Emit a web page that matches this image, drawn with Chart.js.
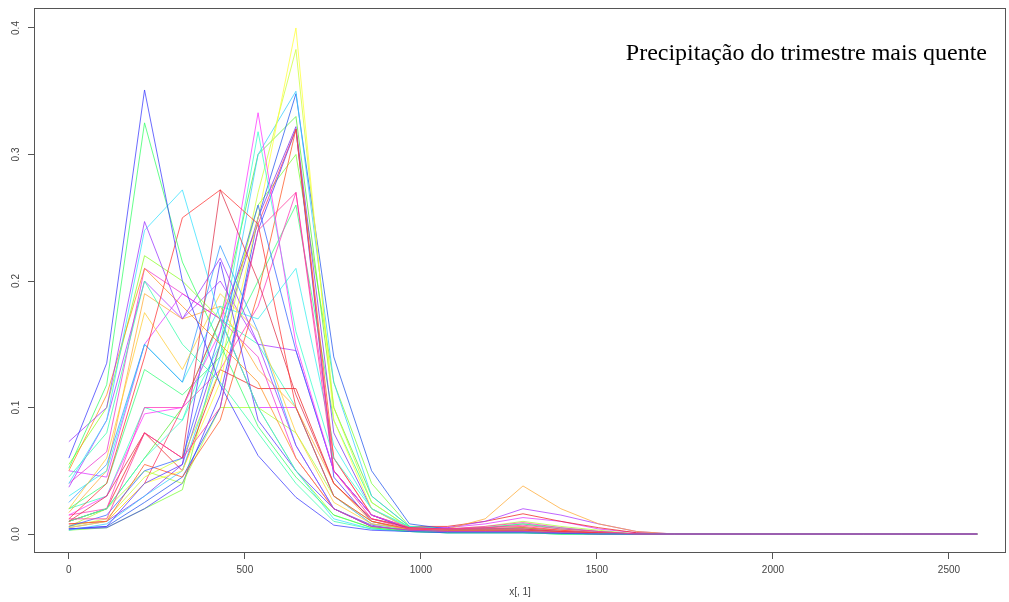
<!DOCTYPE html>
<html><head><meta charset="utf-8">
<script src="https://cdn.jsdelivr.net/npm/chart.js@4"></script>
<style>html,body{margin:0;padding:0;background:#fff}#wrap{width:1009px;height:602px}</style>
</head><body><div id="wrap"><canvas id="c" width="1009" height="602"></canvas></div>
<script>
const xValues = [0,107.5,215,322.5,430,537.5,645,752.5,860,967.5,1075,1182.5,1290,1397.5,1505,1612.5,1720,1827.5,1935,2042.5,2150,2257.5,2365,2472.5,2580];
const xTickValues = [0,500,1000,1500,2000,2500];
const xTickLabels = ['0','500','1000','1500','2000','2500'];
const yTickValues = [0,0.1,0.2,0.3,0.4];
const yTickLabels = ['0.0','0.1','0.2','0.3','0.4'];
const titleText = 'Precipitação do trimestre mais quente';
const xAxisTitle = 'x[, 1]';

const sp01 = [0.060,0.135,0.351,0.200,0.118,0.062,0.029,0.007,0.003,0.002,0.001,0.001,0.001,0.0005,0,0,0,0,0,0,0,0,0,0,0];
const sp02 = [0.052,0.118,0.325,0.215,0.150,0.085,0.045,0.015,0.005,0.002,0.001,0.001,0.001,0,0,0,0,0,0,0,0,0,0,0,0];
const sp03 = [0.073,0.100,0.247,0.170,0.218,0.150,0.070,0.020,0.006,0.003,0.002,0.002,0.002,0.001,0,0,0,0,0,0,0,0,0,0,0];
const sp04 = [0.040,0.090,0.240,0.272,0.170,0.100,0.050,0.012,0.004,0.002,0.001,0.001,0.001,0,0,0,0,0,0,0,0,0,0,0,0];
const sp05 = [0.012,0.040,0.140,0.250,0.272,0.245,0.100,0.030,0.010,0.004,0.003,0.003,0.003,0.002,0.001,0,0,0,0,0,0,0,0,0,0];
const sp06 = [0.010,0.030,0.080,0.060,0.272,0.200,0.110,0.040,0.012,0.005,0.004,0.004,0.004,0.002,0.001,0,0,0,0,0,0,0,0,0,0];
const sp07 = [0.050,0.110,0.210,0.180,0.150,0.120,0.060,0.020,0.006,0.003,0.002,0.002,0.002,0.001,0,0,0,0,0,0,0,0,0,0,0];
const sp08 = [0.020,0.060,0.175,0.130,0.190,0.160,0.080,0.025,0.008,0.004,0.003,0.003,0.003,0.001,0,0,0,0,0,0,0,0,0,0,0];
const sp09 = [0.055,0.100,0.220,0.200,0.170,0.100,0.050,0.015,0.005,0.002,0.001,0.001,0.001,0,0,0,0,0,0,0,0,0,0,0,0];
const sp10 = [0.045,0.080,0.200,0.150,0.120,0.080,0.040,0.010,0.004,0.002,0.001,0.001,0.001,0,0,0,0,0,0,0,0,0,0,0,0];
const sp11 = [0.040,0.065,0.210,0.190,0.170,0.140,0.060,0.020,0.006,0.003,0.002,0.002,0.002,0.001,0,0,0,0,0,0,0,0,0,0,0];
const sp12 = [0.025,0.055,0.150,0.120,0.228,0.160,0.070,0.020,0.006,0.003,0.002,0.002,0.002,0.001,0,0,0,0,0,0,0,0,0,0,0];
const sp13 = [0.015,0.030,0.095,0.100,0.160,0.333,0.150,0.050,0.015,0.005,0.004,0.004,0.004,0.002,0.001,0,0,0,0,0,0,0,0,0,0];
const sp14 = [0.010,0.020,0.060,0.090,0.150,0.318,0.160,0.060,0.020,0.006,0.004,0.004,0.004,0.002,0.001,0,0,0,0,0,0,0,0,0,0];
const sp15 = [0.006,0.015,0.050,0.060,0.160,0.260,0.145,0.050,0.015,0.004,0.003,0.003,0.003,0.001,0,0,0,0,0,0,0,0,0,0,0];
const sp16 = [0.004,0.006,0.040,0.055,0.215,0.090,0.050,0.020,0.007,0.002,0.002,0.002,0.002,0.001,0,0,0,0,0,0,0,0,0,0,0];
const sp17 = [0.012,0.012,0.080,0.060,0.100,0.240,0.270,0.050,0.012,0.004,0.004,0.005,0.007,0.004,0.002,0,0,0,0,0,0,0,0,0,0];
const sp18 = [0.008,0.010,0.055,0.045,0.090,0.190,0.320,0.060,0.015,0.005,0.004,0.004,0.005,0.003,0.001,0,0,0,0,0,0,0,0,0,0];
const sp19 = [0.005,0.010,0.040,0.050,0.120,0.250,0.400,0.090,0.020,0.004,0.003,0.003,0.004,0.002,0.001,0,0,0,0,0,0,0,0,0,0];
const sp20 = [0.006,0.012,0.045,0.060,0.130,0.270,0.383,0.100,0.025,0.005,0.003,0.003,0.004,0.002,0.001,0,0,0,0,0,0,0,0,0,0];
const sp21 = [0.003,0.008,0.030,0.050,0.140,0.300,0.350,0.120,0.030,0.006,0.003,0.003,0.003,0.001,0,0,0,0,0,0,0,0,0,0,0];
const sp22 = [0.004,0.006,0.025,0.045,0.100,0.250,0.348,0.140,0.050,0.008,0.004,0.003,0.003,0.001,0,0,0,0,0,0,0,0,0,0,0];
const sp23 = [0.005,0.010,0.030,0.055,0.150,0.250,0.322,0.080,0.020,0.004,0.003,0.003,0.003,0.001,0,0,0,0,0,0,0,0,0,0,0];
const sp24 = [0.008,0.010,0.040,0.100,0.170,0.245,0.320,0.050,0.015,0.004,0.004,0.005,0.006,0.003,0.001,0,0,0,0,0,0,0,0,0,0];
const sp25 = [0.010,0.020,0.060,0.100,0.170,0.300,0.330,0.100,0.030,0.006,0.004,0.004,0.005,0.002,0.001,0,0,0,0,0,0,0,0,0,0];
const sp26 = [0.015,0.020,0.100,0.100,0.130,0.180,0.270,0.060,0.015,0.004,0.004,0.006,0.009,0.005,0.002,0,0,0,0,0,0,0,0,0,0];
const sp27 = [0.030,0.050,0.150,0.120,0.180,0.170,0.210,0.070,0.020,0.005,0.004,0.004,0.005,0.002,0.001,0,0,0,0,0,0,0,0,0,0];
const sp28 = [0.020,0.040,0.130,0.110,0.140,0.200,0.260,0.090,0.025,0.005,0.004,0.005,0.008,0.004,0.002,0,0,0,0,0,0,0,0,0,0];
const sp29 = [0.017,0.050,0.190,0.170,0.180,0.130,0.100,0.040,0.010,0.003,0.004,0.012,0.038,0.020,0.008,0.002,0,0,0,0,0,0,0,0,0];
const sp30 = [0.037,0.090,0.200,0.170,0.200,0.150,0.145,0.050,0.015,0.005,0.005,0.010,0.020,0.015,0.008,0.002,0,0,0,0,0,0,0,0,0];
const sp31 = [0.010,0.020,0.080,0.050,0.130,0.115,0.115,0.040,0.012,0.006,0.006,0.010,0.016,0.010,0.005,0.001,0,0,0,0,0,0,0,0,0];
const sp32 = [0.006,0.020,0.050,0.040,0.100,0.100,0.080,0.030,0.010,0.004,0.004,0.006,0.010,0.006,0.003,0,0,0,0,0,0,0,0,0,0];
const sp33 = [0.020,0.030,0.100,0.090,0.170,0.150,0.100,0.030,0.008,0.003,0.003,0.005,0.008,0.005,0.002,0,0,0,0,0,0,0,0,0,0];
const sp34 = [0.004,0.005,0.020,0.040,0.110,0.240,0.320,0.045,0.010,0.003,0.002,0.002,0.002,0.001,0,0,0,0,0,0,0,0,0,0,0];
const sp35 = [0.050,0.045,0.150,0.190,0.170,0.100,0.100,0.030,0.008,0.004,0.005,0.008,0.013,0.010,0.004,0.001,0,0,0,0,0,0,0,0,0];
const sp36 = [0.003,0.005,0.020,0.035,0.150,0.260,0.300,0.120,0.040,0.006,0.002,0.002,0.002,0.001,0,0,0,0,0,0,0,0,0,0,0];

// Chart.js paints dataset 0 last (on top), so the pink series goes first
const allSeries = [sp17,sp01,sp02,sp03,sp04,sp05,sp06,sp07,sp08,sp09,sp10,sp11,sp12,sp13,sp14,sp15,sp16,sp18,sp19,sp20,sp21,sp22,sp23,sp24,sp25,sp26,sp27,sp28,sp29,sp30,sp31,sp32,sp33,sp34,sp35,sp36];

const seriesColors = ['#ff3399','#3a3aff','#33ff66','#9933ff','#33e0ff','#ff3333','#e0304a','#ff8c1a','#ffcc33','#88ff22','#33ffaa','#ee33cc','#3399ff',
 '#ff33ff','#33ffcc','#3366ff','#5533ff','#ff5522','#ffff33','#ccff33','#33ccff','#2255ee','#7733ee','#ff3366',
 '#55ee33','#ff33bb','#33eeee','#33ff77','#ffaa33','#aa33ff','#ee2222','#aaff33','#33ffbb','#4433ff','#dd33ff','#77ff33'];

function withAlpha(hex, a){
  const r=parseInt(hex.slice(1,3),16), g=parseInt(hex.slice(3,5),16), b=parseInt(hex.slice(5,7),16);
  return `rgba(${r},${g},${b},${a})`;
}

const datasets = allSeries.map((arr, k) => ({
  data: xValues.map((x, i) => ({x: x, y: arr[i]})),
  borderColor: withAlpha(seriesColors[k], 0.75),
  borderWidth: 1,
  pointRadius: 0,
  tension: 0,
  fill: false
}));

const decor = {
  id: 'decor',
  afterDraw(chart) {
    const {ctx, chartArea: a, scales: {y}} = chart;
    ctx.save();
    ctx.strokeStyle = '#555';
    ctx.lineWidth = 1;
    ctx.strokeRect(Math.round(a.left) + 0.5, Math.round(a.top) + 0.5, Math.round(a.right - a.left) - 1, Math.round(a.bottom - a.top) - 1);
    ctx.fillStyle = '#444';
    ctx.font = '10px "Liberation Sans", Arial, sans-serif';
    ctx.textAlign = 'center';
    ctx.textBaseline = 'middle';
    yTickValues.forEach((v, i) => {
      const py = y.getPixelForValue(v);
      ctx.save();
      ctx.translate(16, py);
      ctx.rotate(-Math.PI / 2);
      ctx.fillText(yTickLabels[i], 0, 0);
      ctx.restore();
    });
    ctx.fillStyle = '#000';
    ctx.font = '24px "Liberation Serif", "Times New Roman", serif';
    ctx.textAlign = 'right';
    ctx.textBaseline = 'alphabetic';
    ctx.fillText(titleText, 987, 60);
    ctx.restore();
  }
};

new Chart(document.getElementById('c'), {
  type: 'line',
  data: { datasets },
  plugins: [decor],
  options: {
    responsive: false,
    animation: false,
    devicePixelRatio: 1,
    layout: { padding: { top: 8, right: 3, left: 0, bottom: 0 } },
    plugins: { legend: { display: false }, tooltip: { enabled: false }, title: { display: false } },
    scales: {
      x: {
        type: 'linear',
        min: -99,
        max: 2662,
        afterBuildTicks: (s) => { s.ticks = xTickValues.map(v => ({value: v})); },
        afterFit: (s) => { s.height = 49; },
        grid: { drawOnChartArea: false, drawTicks: true, tickLength: 6, color: '#555', lineWidth: 1 },
        border: { display: false },
        ticks: {
          autoSkip: false, maxRotation: 0, minRotation: 0, padding: 5,
          color: '#444', font: { family: '"Liberation Sans", Arial, sans-serif', size: 10 },
          callback: (v, i) => xTickLabels[i]
        },
        title: { display: true, text: xAxisTitle, color: '#444', font: { family: '"Liberation Sans", Arial, sans-serif', size: 10 }, padding: { top: 0, bottom: 4 } }
      },
      y: {
        type: 'linear',
        min: -0.015,
        max: 0.4158,
        afterBuildTicks: (s) => { s.ticks = yTickValues.map(v => ({value: v})); },
        afterFit: (s) => { s.width = 34; },
        grid: { drawOnChartArea: false, drawTicks: true, tickLength: 6, color: '#555', lineWidth: 1 },
        border: { display: false },
        ticks: { display: false }
      }
    }
  }
});
</script>
</body></html>
